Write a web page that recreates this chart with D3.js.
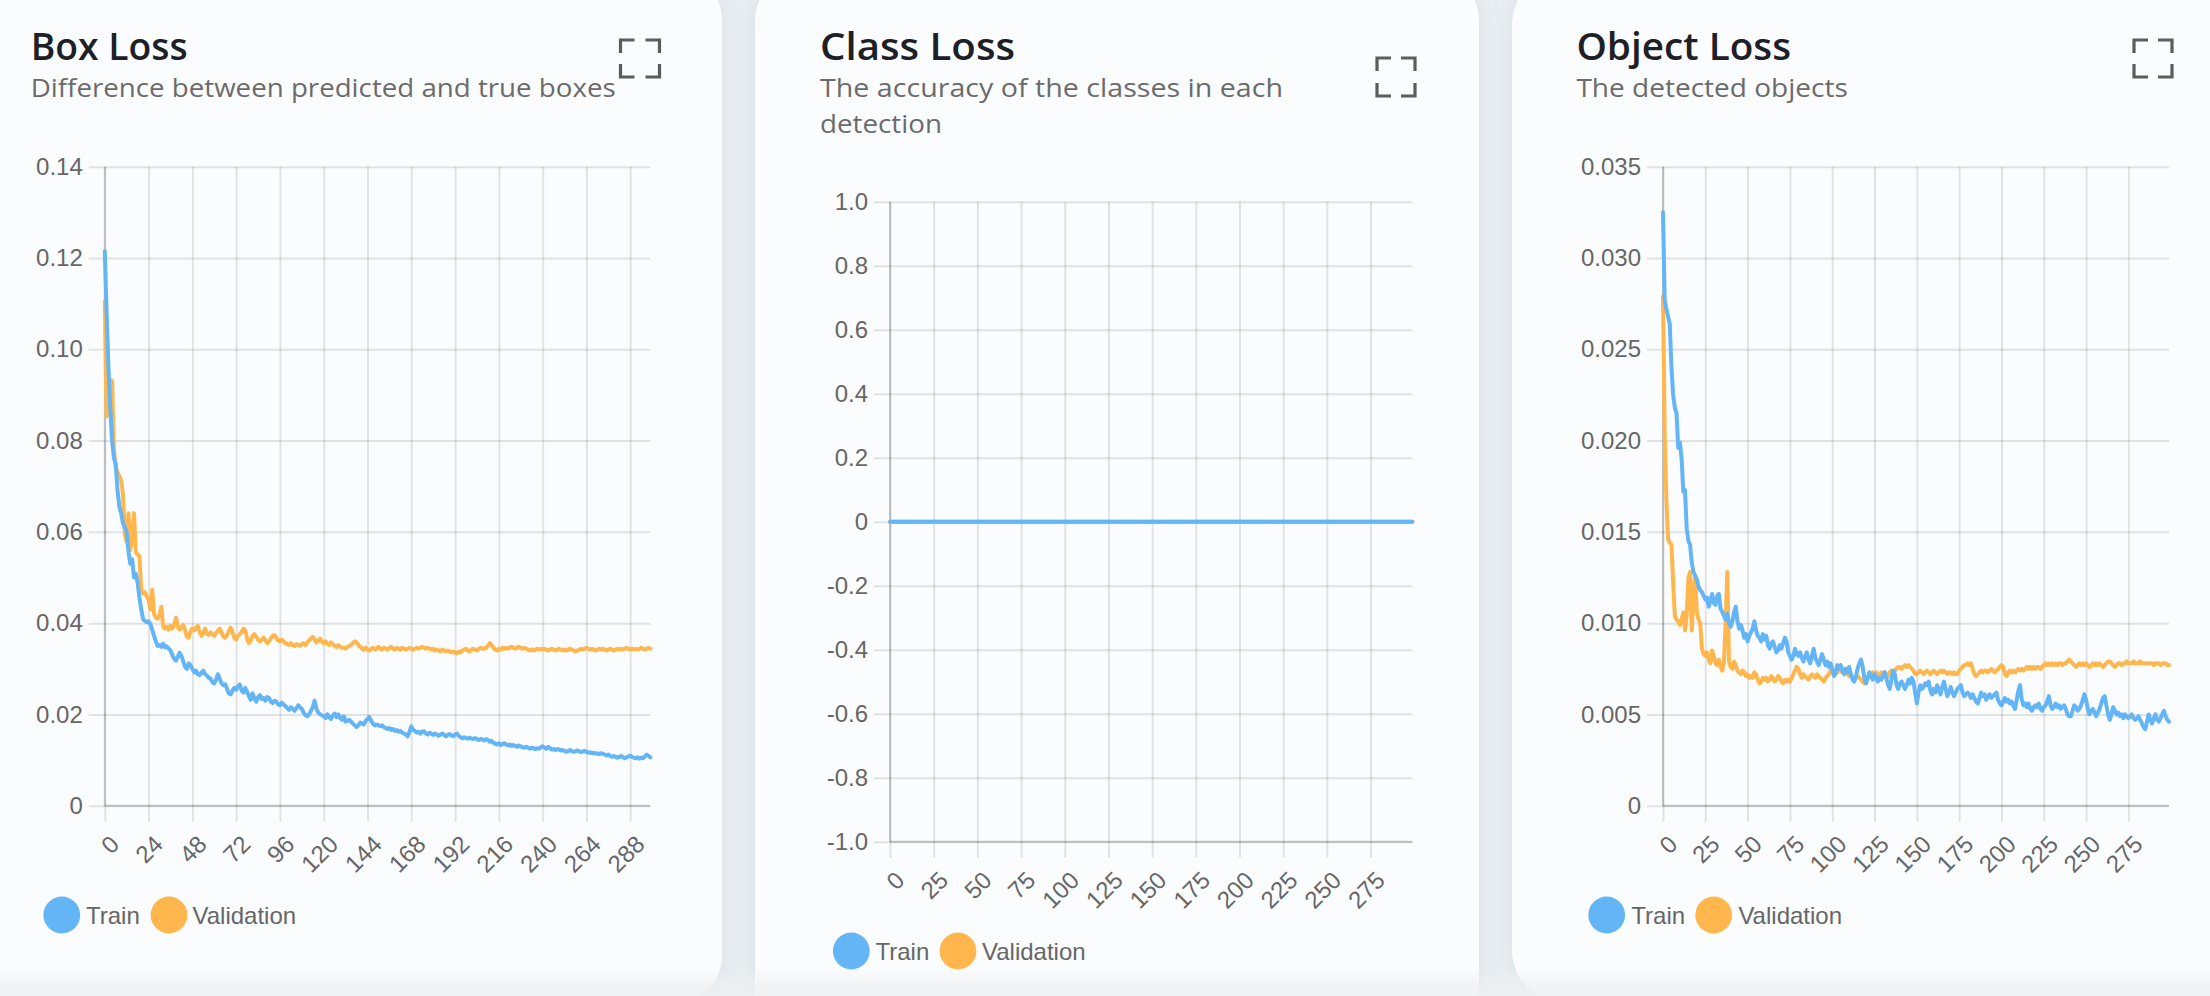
<!DOCTYPE html>
<html><head><meta charset="utf-8">
<script src="https://cdn.jsdelivr.net/npm/d3@7"></script>
<style>html,body{margin:0;padding:0;background:#e9eef1;overflow:hidden}</style>
</head><body><svg id="c" width="2210" height="996"></svg>
<script>
const epochs = d3.range(300);

const boxTrain = [0.1215,0.1080,0.0960,0.0870,0.0800,0.0762,0.0748,0.0690,0.0655,0.0640,
0.0618,0.0610,0.0600,0.0556,0.0530,0.0540,0.0500,0.0508,0.0488,0.0455,
0.0430,0.0408,0.0405,0.0402,0.0404,0.0398,0.0385,0.0372,0.0360,0.0350,
0.0352,0.0348,0.0355,0.0347,0.0349,0.0344,0.0340,0.0330,0.0322,0.0318,
0.0326,0.0335,0.0328,0.0316,0.0304,0.0300,0.0312,0.0308,0.0300,0.0292,
0.0296,0.0288,0.0286,0.0292,0.0296,0.0288,0.0285,0.0280,0.0278,0.0270,
0.0268,0.0276,0.0288,0.0278,0.0268,0.0264,0.0266,0.0256,0.0246,0.0244,
0.0252,0.0258,0.0254,0.0262,0.0266,0.0252,0.0248,0.0258,0.0250,0.0240,
0.0232,0.0246,0.0236,0.0228,0.0238,0.0242,0.0234,0.0236,0.0230,0.0238,
0.0236,0.0228,0.0225,0.0230,0.0228,0.0222,0.0220,0.0226,0.0222,0.0218,
0.0214,0.0210,0.0216,0.0212,0.0208,0.0214,0.0220,0.0216,0.0212,0.0204,
0.0198,0.0196,0.0200,0.0208,0.0216,0.0230,0.0212,0.0204,0.0200,0.0198,
0.0196,0.0192,0.0200,0.0194,0.0190,0.0198,0.0202,0.0194,0.0200,0.0192,
0.0188,0.0196,0.0184,0.0186,0.0188,0.0184,0.0180,0.0176,0.0172,0.0176,
0.0182,0.0180,0.0178,0.0186,0.0190,0.0194,0.0186,0.0180,0.0176,0.0178,
0.0176,0.0174,0.0176,0.0172,0.0170,0.0168,0.0170,0.0166,0.0168,0.0164,
0.0166,0.0162,0.0164,0.0160,0.0158,0.0156,0.0152,0.0162,0.0174,0.0166,
0.0164,0.0160,0.0162,0.0158,0.0162,0.0163,0.0158,0.0156,0.0160,0.0158,
0.0155,0.0158,0.0156,0.0153,0.0156,0.0158,0.0155,0.0152,0.0155,0.0157,
0.0154,0.0152,0.0156,0.0158,0.0153,0.0150,0.0148,0.0150,0.0148,0.0147,
0.0149,0.0147,0.0146,0.0148,0.0146,0.0144,0.0146,0.0145,0.0143,0.0146,
0.0144,0.0140,0.0142,0.0138,0.0136,0.0134,0.0137,0.0133,0.0135,0.0137,
0.0134,0.0132,0.0134,0.0131,0.0133,0.0131,0.0129,0.0132,0.0130,0.0128,
0.0127,0.0129,0.0127,0.0125,0.0127,0.0126,0.0124,0.0126,0.0125,0.0128,
0.0130,0.0127,0.0125,0.0129,0.0126,0.0123,0.0124,0.0122,0.0124,0.0123,
0.0121,0.0122,0.0120,0.0118,0.0120,0.0122,0.0120,0.0118,0.0119,0.0121,
0.0119,0.0117,0.0119,0.0120,0.0118,0.0116,0.0117,0.0115,0.0116,0.0114,
0.0115,0.0113,0.0115,0.0114,0.0112,0.0110,0.0112,0.0109,0.0107,0.0109,
0.0107,0.0105,0.0107,0.0109,0.0106,0.0104,0.0106,0.0108,0.0110,0.0107,
0.0105,0.0104,0.0106,0.0103,0.0105,0.0104,0.0108,0.0112,0.0109,0.0106];

const boxVal = [0.1105,0.0853,0.0880,0.0934,0.0930,0.0780,0.0740,0.0730,0.0722,0.0712,
0.0680,0.0595,0.0578,0.0641,0.0560,0.0590,0.0641,0.0556,0.0550,0.0546,
0.0473,0.0465,0.0468,0.0458,0.0452,0.0430,0.0473,0.0420,0.0412,0.0410,
0.0418,0.0436,0.0392,0.0388,0.0392,0.0386,0.0394,0.0388,0.0396,0.0412,
0.0392,0.0386,0.0390,0.0396,0.0384,0.0370,0.0368,0.0382,0.0388,0.0384,
0.0390,0.0394,0.0380,0.0372,0.0378,0.0388,0.0376,0.0374,0.0380,0.0376,
0.0372,0.0378,0.0384,0.0388,0.0380,0.0370,0.0368,0.0374,0.0382,0.0390,
0.0380,0.0368,0.0364,0.0372,0.0376,0.0380,0.0388,0.0384,0.0366,0.0356,
0.0362,0.0372,0.0376,0.0370,0.0364,0.0360,0.0364,0.0368,0.0362,0.0356,
0.0360,0.0366,0.0372,0.0374,0.0368,0.0362,0.0360,0.0364,0.0360,0.0356,
0.0354,0.0352,0.0356,0.0352,0.0350,0.0354,0.0352,0.0350,0.0354,0.0356,
0.0352,0.0358,0.0362,0.0366,0.0370,0.0364,0.0358,0.0362,0.0366,0.0360,
0.0356,0.0360,0.0356,0.0352,0.0358,0.0354,0.0350,0.0348,0.0352,0.0348,
0.0346,0.0346,0.0344,0.0348,0.0350,0.0352,0.0356,0.0360,0.0358,0.0352,
0.0348,0.0344,0.0342,0.0346,0.0342,0.0340,0.0344,0.0346,0.0342,0.0344,
0.0348,0.0344,0.0342,0.0346,0.0344,0.0342,0.0346,0.0348,0.0344,0.0342,
0.0346,0.0344,0.0342,0.0346,0.0344,0.0342,0.0344,0.0346,0.0344,0.0342,
0.0344,0.0346,0.0344,0.0346,0.0348,0.0346,0.0344,0.0346,0.0344,0.0342,
0.0344,0.0340,0.0342,0.0340,0.0338,0.0342,0.0340,0.0338,0.0340,0.0338,
0.0336,0.0338,0.0336,0.0334,0.0338,0.0336,0.0340,0.0342,0.0344,0.0340,
0.0338,0.0342,0.0344,0.0342,0.0340,0.0344,0.0346,0.0344,0.0344,0.0346,
0.0350,0.0356,0.0352,0.0346,0.0342,0.0340,0.0344,0.0342,0.0346,0.0344,
0.0346,0.0344,0.0346,0.0348,0.0346,0.0344,0.0346,0.0348,0.0346,0.0344,
0.0346,0.0344,0.0342,0.0340,0.0342,0.0340,0.0342,0.0344,0.0342,0.0344,
0.0342,0.0344,0.0342,0.0340,0.0342,0.0344,0.0342,0.0340,0.0342,0.0344,
0.0342,0.0340,0.0342,0.0340,0.0342,0.0344,0.0342,0.0340,0.0338,0.0340,
0.0342,0.0344,0.0342,0.0344,0.0346,0.0344,0.0342,0.0344,0.0342,0.0340,
0.0342,0.0344,0.0342,0.0344,0.0342,0.0340,0.0342,0.0344,0.0342,0.0340,
0.0342,0.0344,0.0342,0.0344,0.0342,0.0344,0.0346,0.0344,0.0342,0.0344,
0.0342,0.0344,0.0342,0.0344,0.0346,0.0344,0.0342,0.0344,0.0346,0.0344];

const classTrain = [0,0,0,0,0,0,0,0,0,0,0,0,0,0,0,0,0,0,0,0,0,0,0,0,0,0,0,0,0,0,
0,0,0,0,0,0,0,0,0,0,0,0,0,0,0,0,0,0,0,0,0,0,0,0,0,0,0,0,0,0,
0,0,0,0,0,0,0,0,0,0,0,0,0,0,0,0,0,0,0,0,0,0,0,0,0,0,0,0,0,0,
0,0,0,0,0,0,0,0,0,0,0,0,0,0,0,0,0,0,0,0,0,0,0,0,0,0,0,0,0,0,
0,0,0,0,0,0,0,0,0,0,0,0,0,0,0,0,0,0,0,0,0,0,0,0,0,0,0,0,0,0,
0,0,0,0,0,0,0,0,0,0,0,0,0,0,0,0,0,0,0,0,0,0,0,0,0,0,0,0,0,0,
0,0,0,0,0,0,0,0,0,0,0,0,0,0,0,0,0,0,0,0,0,0,0,0,0,0,0,0,0,0,
0,0,0,0,0,0,0,0,0,0,0,0,0,0,0,0,0,0,0,0,0,0,0,0,0,0,0,0,0,0,
0,0,0,0,0,0,0,0,0,0,0,0,0,0,0,0,0,0,0,0,0,0,0,0,0,0,0,0,0,0,
0,0,0,0,0,0,0,0,0,0,0,0,0,0,0,0,0,0,0,0,0,0,0,0,0,0,0,0,0,0];

const classVal = [0,0,0,0,0,0,0,0,0,0,0,0,0,0,0,0,0,0,0,0,0,0,0,0,0,0,0,0,0,0,
0,0,0,0,0,0,0,0,0,0,0,0,0,0,0,0,0,0,0,0,0,0,0,0,0,0,0,0,0,0,
0,0,0,0,0,0,0,0,0,0,0,0,0,0,0,0,0,0,0,0,0,0,0,0,0,0,0,0,0,0,
0,0,0,0,0,0,0,0,0,0,0,0,0,0,0,0,0,0,0,0,0,0,0,0,0,0,0,0,0,0,
0,0,0,0,0,0,0,0,0,0,0,0,0,0,0,0,0,0,0,0,0,0,0,0,0,0,0,0,0,0,
0,0,0,0,0,0,0,0,0,0,0,0,0,0,0,0,0,0,0,0,0,0,0,0,0,0,0,0,0,0,
0,0,0,0,0,0,0,0,0,0,0,0,0,0,0,0,0,0,0,0,0,0,0,0,0,0,0,0,0,0,
0,0,0,0,0,0,0,0,0,0,0,0,0,0,0,0,0,0,0,0,0,0,0,0,0,0,0,0,0,0,
0,0,0,0,0,0,0,0,0,0,0,0,0,0,0,0,0,0,0,0,0,0,0,0,0,0,0,0,0,0,
0,0,0,0,0,0,0,0,0,0,0,0,0,0,0,0,0,0,0,0,0,0,0,0,0,0,0,0,0,0];

const objTrain = [0.0325,0.0277,0.0272,0.0268,0.0264,0.0240,0.0225,0.0218,0.0215,0.0196,
0.0199,0.0190,0.0172,0.0173,0.0152,0.0145,0.0143,0.0133,0.0128,0.0126,
0.0124,0.0120,0.0118,0.0117,0.0115,0.0113,0.0114,0.0109,0.0112,0.0116,
0.0111,0.0110,0.0115,0.0116,0.0108,0.0106,0.0104,0.0102,0.0105,0.0100,
0.0098,0.0101,0.0106,0.0109,0.0101,0.0097,0.0099,0.0096,0.0092,0.0094,
0.0090,0.0093,0.0095,0.0097,0.0101,0.0096,0.0093,0.0092,0.0090,0.0094,
0.0091,0.0093,0.0088,0.0086,0.0089,0.0090,0.0087,0.0084,0.0085,0.0088,
0.0086,0.0089,0.0092,0.0090,0.0084,0.0082,0.0080,0.0082,0.0086,0.0083,
0.0082,0.0084,0.0081,0.0079,0.0082,0.0084,0.0080,0.0078,0.0082,0.0086,
0.0081,0.0079,0.0077,0.0080,0.0083,0.0080,0.0077,0.0079,0.0076,0.0078,
0.0075,0.0071,0.0073,0.0077,0.0075,0.0077,0.0074,0.0072,0.0075,0.0073,
0.0076,0.0072,0.0069,0.0068,0.0071,0.0075,0.0078,0.0080,0.0076,0.0070,
0.0067,0.0070,0.0073,0.0071,0.0069,0.0072,0.0070,0.0068,0.0070,0.0069,
0.0071,0.0073,0.0070,0.0066,0.0064,0.0069,0.0074,0.0072,0.0066,0.0064,
0.0067,0.0068,0.0066,0.0064,0.0066,0.0069,0.0067,0.0070,0.0068,0.0062,
0.0056,0.0062,0.0066,0.0064,0.0065,0.0067,0.0066,0.0068,0.0063,0.0061,
0.0064,0.0062,0.0066,0.0063,0.0061,0.0065,0.0068,0.0064,0.0060,0.0062,
0.0065,0.0062,0.0060,0.0062,0.0064,0.0065,0.0066,0.0062,0.0060,0.0061,
0.0062,0.0061,0.0059,0.0061,0.0059,0.0057,0.0056,0.0059,0.0062,0.0060,
0.0061,0.0058,0.0060,0.0061,0.0059,0.0060,0.0061,0.0062,0.0058,0.0056,
0.0055,0.0057,0.0059,0.0057,0.0058,0.0056,0.0057,0.0055,0.0053,0.0058,
0.0063,0.0066,0.0058,0.0055,0.0056,0.0054,0.0056,0.0053,0.0052,0.0054,
0.0055,0.0054,0.0056,0.0053,0.0052,0.0054,0.0055,0.0057,0.0060,0.0055,
0.0053,0.0054,0.0056,0.0054,0.0055,0.0053,0.0054,0.0055,0.0053,0.0050,
0.0049,0.0049,0.0052,0.0055,0.0054,0.0052,0.0053,0.0055,0.0058,0.0061,
0.0058,0.0053,0.0050,0.0052,0.0053,0.0051,0.0049,0.0051,0.0053,0.0056,
0.0059,0.0060,0.0055,0.0050,0.0047,0.0050,0.0054,0.0052,0.0050,0.0051,
0.0049,0.0050,0.0048,0.0050,0.0049,0.0048,0.0049,0.0050,0.0048,0.0047,
0.0048,0.0049,0.0047,0.0045,0.0043,0.0042,0.0046,0.0050,0.0047,0.0045,
0.0048,0.0050,0.0047,0.0046,0.0048,0.0050,0.0052,0.0049,0.0047,0.0046];

const objVal = [0.0279,0.0204,0.0168,0.0146,0.0144,0.0143,0.0122,0.0104,0.0102,0.0101,
0.0099,0.0102,0.0106,0.0096,0.0104,0.0125,0.0128,0.0096,0.0114,0.0126,
0.0106,0.0102,0.0100,0.0086,0.0083,0.0082,0.0084,0.0080,0.0078,0.0085,
0.0082,0.0078,0.0077,0.0080,0.0076,0.0074,0.0078,0.0100,0.0128,0.0079,
0.0076,0.0075,0.0079,0.0077,0.0074,0.0073,0.0072,0.0074,0.0073,0.0071,
0.0072,0.0070,0.0071,0.0070,0.0073,0.0072,0.0069,0.0067,0.0068,0.0070,
0.0069,0.0070,0.0068,0.0069,0.0071,0.0070,0.0068,0.0069,0.0071,0.0070,
0.0068,0.0067,0.0069,0.0068,0.0069,0.0068,0.0070,0.0072,0.0074,0.0076,
0.0075,0.0072,0.0070,0.0072,0.0071,0.0070,0.0069,0.0071,0.0072,0.0071,
0.0070,0.0072,0.0071,0.0070,0.0069,0.0068,0.0070,0.0071,0.0072,0.0074,
0.0073,0.0074,0.0072,0.0073,0.0075,0.0074,0.0073,0.0075,0.0074,0.0072,
0.0071,0.0072,0.0070,0.0069,0.0070,0.0071,0.0070,0.0069,0.0068,0.0067,
0.0068,0.0070,0.0071,0.0072,0.0073,0.0072,0.0073,0.0071,0.0072,0.0073,
0.0072,0.0073,0.0072,0.0071,0.0073,0.0074,0.0073,0.0074,0.0075,0.0076,
0.0076,0.0075,0.0076,0.0077,0.0076,0.0077,0.0076,0.0075,0.0074,0.0072,
0.0072,0.0073,0.0074,0.0073,0.0072,0.0073,0.0074,0.0073,0.0072,0.0073,
0.0074,0.0073,0.0072,0.0073,0.0074,0.0073,0.0074,0.0073,0.0072,0.0073,
0.0073,0.0072,0.0073,0.0072,0.0072,0.0074,0.0075,0.0076,0.0077,0.0077,
0.0078,0.0077,0.0078,0.0075,0.0072,0.0071,0.0072,0.0073,0.0074,0.0073,
0.0074,0.0074,0.0073,0.0074,0.0075,0.0074,0.0073,0.0074,0.0075,0.0076,
0.0077,0.0076,0.0072,0.0071,0.0073,0.0074,0.0073,0.0074,0.0073,0.0074,
0.0075,0.0074,0.0075,0.0074,0.0075,0.0076,0.0075,0.0076,0.0075,0.0076,
0.0075,0.0076,0.0076,0.0075,0.0076,0.0077,0.0078,0.0077,0.0078,0.0077,
0.0078,0.0077,0.0078,0.0077,0.0078,0.0078,0.0077,0.0078,0.0078,0.0079,
0.0080,0.0079,0.0078,0.0077,0.0076,0.0077,0.0078,0.0077,0.0078,0.0077,
0.0078,0.0077,0.0076,0.0077,0.0078,0.0077,0.0078,0.0077,0.0078,0.0077,
0.0076,0.0077,0.0078,0.0079,0.0079,0.0078,0.0077,0.0076,0.0077,0.0078,
0.0078,0.0077,0.0078,0.0078,0.0079,0.0078,0.0078,0.0078,0.0079,0.0078,
0.0078,0.0078,0.0079,0.0078,0.0078,0.0078,0.0078,0.0078,0.0078,0.0078,
0.0077,0.0078,0.0078,0.0078,0.0077,0.0078,0.0078,0.0078,0.0077,0.0077];

const boxYTicks = [0, 0.02, 0.04, 0.06, 0.08, 0.10, 0.12, 0.14];
const boxXTicks = [0, 24, 48, 72, 96, 120, 144, 168, 192, 216, 240, 264, 288];
const classYTicks = [-1.0, -0.8, -0.6, -0.4, -0.2, 0, 0.2, 0.4, 0.6, 0.8, 1.0];
const classXTicks = [0, 25, 50, 75, 100, 125, 150, 175, 200, 225, 250, 275];
const objYTicks = [0, 0.005, 0.010, 0.015, 0.020, 0.025, 0.030, 0.035];
const objXTicks = [0, 25, 50, 75, 100, 125, 150, 175, 200, 225, 250, 275];

const seriesNames = ["Train", "Validation"];
const seriesColors = ["#64B5F6", "#FFB74D"];

const titles = ["Box Loss", "Class Loss", "Object Loss"];
const subtitles = [["Difference between predicted and true boxes"], ["The accuracy of the classes in each", "detection"], ["The detected objects"]];

const svg = d3.select("#c");
const defs = svg.append("defs");
const sh = defs.append("filter").attr("id","sh").attr("x","-20%").attr("y","-20%").attr("width","140%").attr("height","140%");
sh.append("feDropShadow").attr("dx",0).attr("dy",2).attr("stdDeviation",10).attr("flood-color","#9fb0bc").attr("flood-opacity",0.25);
const fade = defs.append("linearGradient").attr("id","fade").attr("x1",0).attr("y1",0).attr("x2",0).attr("y2",1);
fade.append("stop").attr("offset","0%").attr("stop-color","#eef0f2").attr("stop-opacity",0);
fade.append("stop").attr("offset","55%").attr("stop-color","#eef0f2").attr("stop-opacity",0.7);
fade.append("stop").attr("offset","100%").attr("stop-color","#eef0f2").attr("stop-opacity",0.85);

const GRID = "rgba(0,0,0,0.1)";
const BORDER = "rgba(0,0,0,0.19)";
const TICKFONT = "'Liberation Sans', Arial, sans-serif";

const cards = [
  {x:-60, y:-30, w:782, h:1035, r:50},
  {x:755, y:-25, w:724, h:1100, r:45},
  {x:1512, y:-30, w:760, h:1035, r:55}
];
svg.selectAll("rect.card").data(cards).join("rect").attr("class","card")
  .attr("x",d=>d.x).attr("y",d=>d.y).attr("width",d=>d.w).attr("height",d=>d.h)
  .attr("rx",d=>d.r).attr("fill","#fbfcfe").attr("filter","url(#sh)");

const layouts = [
  {title:{x:30.7,w:157}, sub:[{x:30.7,y:97,w:585}], icon:{x:620.5,y:40,w:39,h:37},
   left:104.8, right:650.3, top:166.7, bottom:805.7,
   legend:{cy:915, items:[{cx:61.8,tx:86},{cx:169,tx:192.5}]}},
  {title:{x:820,w:195}, sub:[{x:820,y:97,w:463},{x:820,y:133,w:122}], icon:{x:1377,y:58,w:38,h:38},
   left:890, right:1412.5, top:201.7, bottom:841.7,
   legend:{cy:951, items:[{cx:851.3,tx:875.5},{cx:958,tx:982}]}},
  {title:{x:1576.4,w:214.6}, sub:[{x:1576.4,y:97,w:271.4}], icon:{x:2134,y:40,w:38,h:37},
   left:1663, right:2169, top:166.7, bottom:805.7,
   legend:{cy:915, items:[{cx:1606.7,tx:1631.3},{cx:1713.7,tx:1738.4}]}}
];

const charts = [
  {series:[boxTrain, boxVal], yTicks:boxYTicks, xTicks:boxXTicks, fmt:d=> d===0 ? "0" : d.toFixed(2)},
  {series:[classTrain, classVal], yTicks:classYTicks, xTicks:classXTicks, fmt:d=> d===0 ? "0" : d.toFixed(1)},
  {series:[objTrain, objVal], yTicks:objYTicks, xTicks:objXTicks, fmt:d=> d===0 ? "0" : d.toFixed(3)}
];

function drawIcon(g, b){
  const ax = 14, ay = 13;
  const p = [
    `M${b.x},${b.y+ay} V${b.y} H${b.x+ax}`,
    `M${b.x+b.w-ax},${b.y} H${b.x+b.w} V${b.y+ay}`,
    `M${b.x},${b.y+b.h-ay} V${b.y+b.h} H${b.x+ax}`,
    `M${b.x+b.w-ax},${b.y+b.h} H${b.x+b.w} V${b.y+b.h-ay}`
  ];
  g.selectAll("path.ic").data(p).join("path").attr("class","ic").attr("d",d=>d)
    .attr("fill","none").attr("stroke","#5c5c5c").attr("stroke-width",3.2);
}

charts.forEach((c, k) => {
  const L = layouts[k];
  const g = svg.append("g");

  g.append("text").attr("x",L.title.x).attr("y",60).text(titles[k])
    .attr("textLength",L.title.w).attr("lengthAdjust","spacingAndGlyphs")
    .style("font","600 38px 'Open Sans', sans-serif").attr("fill","#1d2026");
  subtitles[k].forEach((s,i)=>{
    g.append("text").attr("x",L.sub[i].x).attr("y",L.sub[i].y).text(s)
      .attr("textLength",L.sub[i].w).attr("lengthAdjust","spacingAndGlyphs")
      .style("font","400 25px 'Open Sans', sans-serif").attr("fill","#6b6b6b");
  });
  drawIcon(g, L.icon);

  const x = d3.scaleLinear().domain([0, epochs.length-1]).range([L.left, L.right]);
  const y = d3.scaleLinear().domain([c.yTicks[0], c.yTicks[c.yTicks.length-1]]).range([L.bottom, L.top]);
  const W = L.right - L.left, H = L.bottom - L.top;

  const yg = g.append("g").attr("transform",`translate(${L.left},0)`)
    .call(d3.axisLeft(y).tickValues(c.yTicks).tickFormat(c.fmt).tickSizeInner(-W).tickSizeOuter(0).tickPadding(22));
  yg.select(".domain").remove();
  yg.selectAll(".tick line").attr("x1",-16).attr("x2",W).attr("stroke",GRID).attr("stroke-width",2);
  yg.selectAll(".tick text").attr("fill","#666").style("font",`24px ${TICKFONT}`);

  const xg = g.append("g").attr("transform",`translate(0,${L.top})`)
    .call(d3.axisBottom(x).tickValues(c.xTicks).tickFormat(d3.format("d")).tickSizeInner(H+16).tickSizeOuter(0));
  xg.select(".domain").remove();
  xg.selectAll(".tick line").attr("stroke",GRID).attr("stroke-width",2);
  xg.selectAll(".tick text").attr("y",null).attr("dy",null)
    .attr("transform",`translate(9.4,${H+34}) rotate(-45)`)
    .attr("text-anchor","end").attr("dominant-baseline","central")
    .attr("fill","#666").style("font",`24px ${TICKFONT}`);

  g.append("line").attr("x1",L.left).attr("x2",L.left).attr("y1",L.top).attr("y2",L.bottom)
    .attr("stroke",BORDER).attr("stroke-width",2);
  g.append("line").attr("x1",L.left).attr("x2",L.right).attr("y1",L.bottom).attr("y2",L.bottom)
    .attr("stroke",BORDER).attr("stroke-width",2);

  const line = d3.line().x((d,i)=>x(epochs[i])).y(d=>y(d));
  [1,0].forEach(s=>{
    g.append("path").datum(c.series[s]).attr("d",line)
      .attr("fill","none").attr("stroke",seriesColors[s]).attr("stroke-width",4)
      .attr("stroke-linejoin","round").attr("stroke-linecap","round");
  });

  L.legend.items.forEach((it,i)=>{
    g.append("circle").attr("cx",it.cx).attr("cy",L.legend.cy).attr("r",18.4).attr("fill",seriesColors[i]);
    g.append("text").attr("x",it.tx).attr("y",L.legend.cy).attr("dominant-baseline","central")
      .text(seriesNames[i]).attr("fill","#666").style("font",`24px ${TICKFONT}`);
  });
});

svg.append("rect").attr("x",0).attr("y",968).attr("width",2210).attr("height",28).attr("fill","url(#fade)");
</script>
</body></html>
